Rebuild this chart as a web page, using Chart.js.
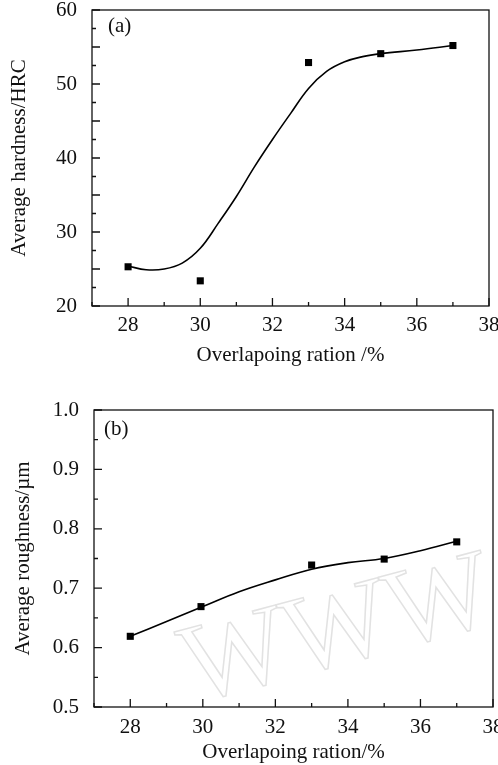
<!DOCTYPE html>
<html>
<head>
<meta charset="utf-8">
<script src="https://cdn.jsdelivr.net/npm/chart.js@4"></script>
<style>
  body { margin: 0; background: #fff; }
  canvas { display: block; }
</style>
</head>
<body>
<canvas id="hardness-chart" width="498" height="380"></canvas>
<canvas id="roughness-chart" width="498" height="385"></canvas>
<script>
// measured points
const hardnessRatio = [28, 30, 33, 35, 37];
const hardness = [25.3, 23.4, 52.9, 54.1, 55.2];
const roughnessRatio = [28, 29.95, 33, 35, 37];
const roughness = [0.619, 0.669, 0.739, 0.749, 0.778];

// fitted curves
const hardnessFitX = [28, 28.5, 29, 29.5, 30, 30.5, 31, 31.5, 32, 32.5, 33, 33.5, 34, 34.5, 35, 36, 37];
const hardnessFit = [25.4, 24.9, 25.0, 25.8, 27.8, 31.2, 34.8, 38.8, 42.5, 46.0, 49.4, 51.7, 53.0, 53.7, 54.1, 54.6, 55.2];
const roughnessFitX = [28, 29, 30, 31, 32, 33, 34, 35, 36, 37];
const roughnessFit = [0.619, 0.644, 0.669, 0.694, 0.714, 0.732, 0.743, 0.750, 0.763, 0.779];

const serif = "'Liberation Serif', 'Times New Roman', serif";
const ink = '#111';
const fontSize = 21;

const toXY = (xs, ys) => xs.map((x, i) => ({x: x, y: ys[i]}));

// box around the plot, inward ticks, panel letter, watermark
const framePlugin = {
    id: 'frame',
    beforeDatasetsDraw(chart, args, opts) {
        if (!opts.watermark) return;
        const ctx = chart.ctx;
        ctx.save();
        ctx.translate(opts.watermark.x, opts.watermark.y);
        ctx.rotate(-15 * Math.PI / 180);
        ctx.font = '112px ' + serif;
        ctx.strokeStyle = '#e2e2e2';
        ctx.lineWidth = 1.5;
        ctx.strokeText(opts.watermark.text, 0, 0);
        ctx.restore();
    },
    afterDatasetsDraw(chart, args, opts) {
        const {ctx, chartArea: a, scales: {x, y}} = chart;
        ctx.save();
        ctx.strokeStyle = ink;
        ctx.lineWidth = 1.3;
        ctx.strokeRect(a.left, a.top, a.right - a.left, a.bottom - a.top);
        ctx.beginPath();
        for (let i = Math.ceil(x.min / opts.xMinor - 1e-9); i * opts.xMinor <= x.max + 1e-9; i++) {
            const px = x.getPixelForValue(i * opts.xMinor);
            const len = i % 2 === 0 ? 8 : 4;
            ctx.moveTo(px, a.bottom);
            ctx.lineTo(px, a.bottom - len);
        }
        for (let i = Math.ceil(y.min / opts.yMinor - 1e-9); i * opts.yMinor <= y.max + 1e-9; i++) {
            const py = y.getPixelForValue(i * opts.yMinor);
            const len = i % 2 === 0 ? 8 : 4;
            ctx.moveTo(a.left, py);
            ctx.lineTo(a.left + len, py);
        }
        ctx.stroke();
        ctx.fillStyle = ink;
        ctx.font = fontSize + 'px ' + serif;
        ctx.textBaseline = 'middle';
        ctx.fillText(opts.label, a.left + opts.labelDx, a.top + opts.labelDy);
        ctx.restore();
    }
};

function makeChart(el, cfg) {
    return new Chart(el, {
        type: 'scatter',
        data: {
            datasets: [{
                data: cfg.points,
                pointStyle: 'rect',
                pointRadius: 5,
                pointBorderWidth: 0,
                backgroundColor: '#000',
                borderColor: '#000',
                showLine: false
            }, {
                data: cfg.fit,
                showLine: true,
                pointRadius: 0,
                borderColor: '#000',
                borderWidth: 1.6,
                tension: 0.4
            }]
        },
        options: {
            responsive: false,
            animation: false,
            layout: {padding: cfg.padding},
            plugins: {
                legend: {display: false},
                tooltip: {enabled: false},
                frame: cfg.frame
            },
            scales: {
                x: {
                    min: 27,
                    max: 38,
                    border: {display: false},
                    grid: {display: false, drawTicks: false, tickLength: 0},
                    ticks: {
                        stepSize: 2,
                        includeBounds: false,
                        padding: cfg.xTickPad,
                        color: ink,
                        font: {family: serif, size: fontSize},
                        callback: v => (v % 2 === 0 ? String(v) : '')
                    },
                    title: {
                        display: true,
                        text: cfg.xTitle,
                        color: ink,
                        font: {family: serif, size: fontSize},
                        padding: {top: 0, bottom: cfg.xTitlePad}
                    },
                    afterFit: s => {
                        s.height = cfg.xHeight;
                        s.paddingLeft = 0;
                        s.paddingRight = 0;
                    }
                },
                y: {
                    min: cfg.yMin,
                    max: cfg.yMax,
                    border: {display: false},
                    grid: {display: false, drawTicks: false, tickLength: 0},
                    ticks: {
                        stepSize: cfg.yStep,
                        padding: 15,
                        color: ink,
                        font: {family: serif, size: fontSize},
                        callback: cfg.yFormat
                    },
                    title: {
                        display: true,
                        text: cfg.yTitle,
                        color: ink,
                        font: {family: serif, size: fontSize},
                        padding: {top: cfg.yTitlePad, bottom: 0}
                    },
                    afterFit: s => {
                        s.width = cfg.yWidth;
                        s.paddingTop = 0;
                        s.paddingBottom = 0;
                    }
                }
            }
        },
        plugins: [framePlugin]
    });
}

const hardnessChart = makeChart(document.getElementById('hardness-chart'), {
    points: toXY(hardnessRatio, hardness),
    fit: toXY(hardnessFitX, hardnessFit),
    padding: {left: 4, right: 9, top: 10, bottom: 0},
    xHeight: 74,
    yWidth: 88,
    xTickPad: 7,
    xTitlePad: 12,
    yTitlePad: 3,
    yMin: 20,
    yMax: 60,
    yStep: 10,
    yFormat: v => String(v),
    xTitle: 'Overlapoing ration /%',
    yTitle: 'Average hardness/HRC',
    frame: {xMinor: 1, yMinor: 2.5, label: '(a)', labelDx: 16, labelDy: 16}
});

const roughnessChart = makeChart(document.getElementById('roughness-chart'), {
    points: toXY(roughnessRatio, roughness),
    fit: toXY(roughnessFitX, roughnessFit),
    padding: {left: 4, right: 5, top: 30, bottom: 0},
    xHeight: 58,
    yWidth: 90,
    xTickPad: 8,
    xTitlePad: 0,
    yTitlePad: 7,
    yMin: 0.5,
    yMax: 1.0,
    yStep: 0.1,
    yFormat: v => v.toFixed(1),
    xTitle: 'Overlapoing ration/%',
    yTitle: 'Average roughness/\u00b5m',
    frame: {xMinor: 1, yMinor: 0.05, label: '(b)', labelDx: 10, labelDy: 19,
            watermark: {text: 'WWW', x: 193, y: 323}}
});
</script>
</body>
</html>
